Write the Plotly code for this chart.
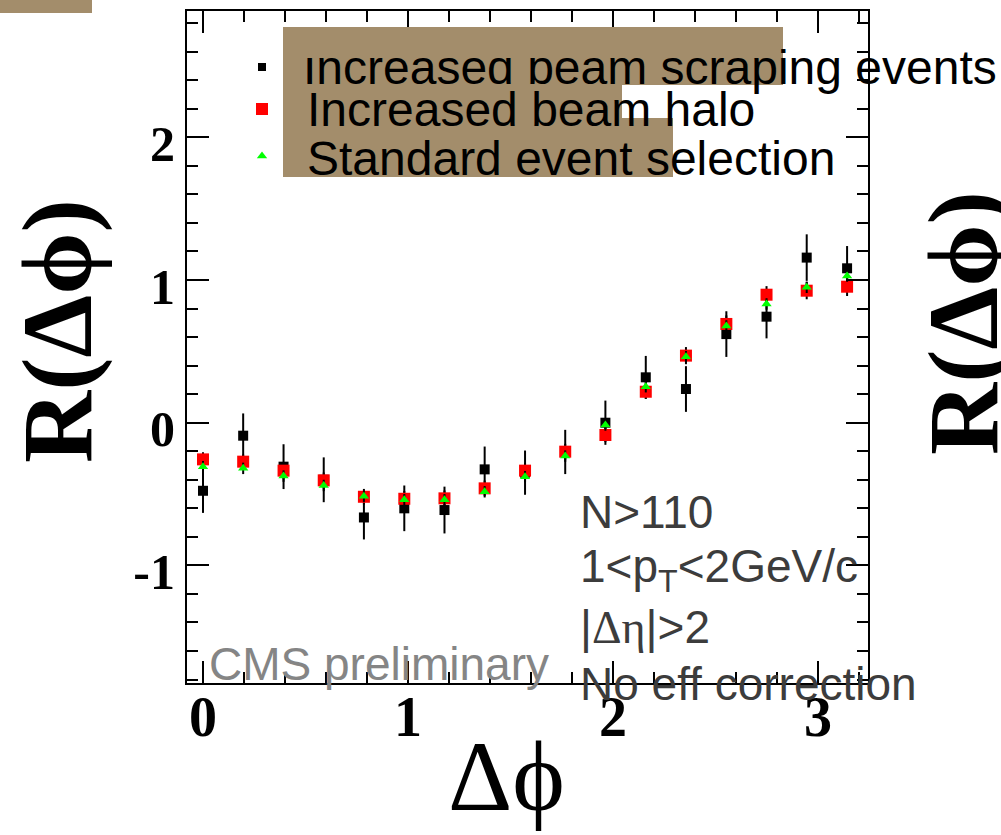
import plotly.graph_objects as go

# Correlation function R(dphi) for three event selections
dphi = [0.0, 0.196, 0.393, 0.589, 0.785, 0.982, 1.178, 1.374, 1.571,
        1.767, 1.963, 2.160, 2.356, 2.553, 2.749, 2.945, 3.142]

r_scraping = [-0.477, -0.091, -0.308, -0.400, -0.664, -0.600, -0.612, -0.327, -0.350,
              -0.205, 0.000, 0.318, 0.236, 0.621, 0.743, 1.157, 1.082]
err_scraping = [0.155, 0.156, 0.157, 0.157, 0.154, 0.160, 0.164, 0.160, 0.155,
                0.155, 0.155, 0.150, 0.160, 0.160, 0.152, 0.163, 0.156]

r_halo = [-0.257, -0.273, -0.336, -0.404, -0.519, -0.533, -0.530, -0.460, -0.336,
          -0.203, -0.086, 0.217, 0.470, 0.692, 0.897, 0.925, 0.953]
err_halo = [0.050, 0.050, 0.055, 0.055, 0.055, 0.055, 0.055, 0.055, 0.055,
            0.055, 0.050, 0.050, 0.060, 0.060, 0.060, 0.060, 0.065]

r_standard = [-0.308, -0.320, -0.374, -0.440, -0.515, -0.540, -0.540, -0.484, -0.378,
              -0.234, -0.016, 0.252, 0.463, 0.678, 0.832, 0.949, 1.028]
err_standard = [0.040] * 17

legend_labels = ["Increased beam scraping events", "Increased beam halo",
                 "Standard event selection"]
info_lines = ["N>110", "1&lt;p<sub>T</sub>&lt;2GeV/c",
              "|<span style='font-family:Liberation Serif'>Δη</span>|>2",
              "No eff correction"]
x_tickvals = [0, 1, 2, 3]
x_ticktext = ["0", "1", "2", "3"]
y_tickvals = [-1, 0, 1, 2]
y_ticktext = ["-1", "0", "1", "2"]

# Page geometry (pixels)
W, H = 1001, 835
FRAME_L, FRAME_R, FRAME_T, FRAME_B = 187, 868, 11, 683
BROWN = "#A38D6B"
SANS = "Liberation Sans"
SERIF = "Liberation Serif"


def fx(p):
    return p / W


def fy(p):
    return 1 - p / H


fig = go.Figure()

err_style = dict(type="data", thickness=2, width=0, color="black")

fig.add_trace(go.Scatter(
    x=dphi, y=r_scraping, mode="markers",
    error_y=dict(array=err_scraping, **err_style),
    marker=dict(symbol="square", size=10, color="black", line=dict(width=0)),
    showlegend=False))
fig.add_trace(go.Scatter(
    x=dphi, y=r_halo, mode="markers",
    error_y=dict(array=err_halo, **err_style),
    marker=dict(symbol="square", size=12, color="#FF0000", line=dict(width=0)),
    showlegend=False))
fig.add_trace(go.Scatter(
    x=dphi, y=r_standard, mode="markers",
    error_y=dict(array=err_standard, **err_style),
    marker=dict(symbol="triangle-up", size=9, color="#00FF00", line=dict(width=0)),
    showlegend=False))

# Legend swatches and first legend line, placed on a full-page pixel axis
LEG_MARK_X = 262
LEG_MARK_Y = [67, 109, 156]
leg_styles = [dict(symbol="square", size=8, color="black"),
              dict(symbol="square", size=12, color="#FF0000"),
              dict(symbol="triangle-up", size=9, color="#00FF00")]
for yy, st in zip(LEG_MARK_Y, leg_styles):
    fig.add_trace(go.Scatter(x=[LEG_MARK_X], y=[yy], mode="markers",
                             marker=dict(line=dict(width=0), **st),
                             xaxis="x2", yaxis="y2", showlegend=False,
                             cliponaxis=False))

LEG_FONT = 48
LEG_TEXT_X = 305
LEG_TEXT_Y = [72, 109, 158]
fig.add_trace(go.Scatter(x=[LEG_TEXT_X - 2], y=[LEG_TEXT_Y[0]], mode="text",
                         text=[legend_labels[0]], textposition="middle right",
                         textfont=dict(family=SANS, size=LEG_FONT, color="black"),
                         xaxis="x2", yaxis="y2", showlegend=False,
                         cliponaxis=False, hoverinfo="skip"))

tick_common = dict(ticks="inside", ticklen=22, tickwidth=2, tickcolor="black",
                   showline=True, linewidth=2, linecolor="black",
                   mirror="allticks", showgrid=False, zeroline=False,
                   minor=dict(dtick=0.2, tick0=0, ticks="inside", ticklen=11,
                              tickwidth=2, tickcolor="black", showgrid=False))

fig.update_layout(
    width=W, height=H, autosize=False,
    margin=dict(l=0, r=0, t=0, b=0, pad=0),
    paper_bgcolor="white", plot_bgcolor="rgba(0,0,0,0)",
    xaxis=dict(domain=[fx(FRAME_L), fx(FRAME_R)], range=[-0.078, 3.244],
               tickmode="array", tickvals=x_tickvals, ticktext=x_ticktext,
               tickfont=dict(family=SERIF, size=56, color="black", weight="bold"),
               ticklabelstandoff=-16,
               **tick_common),
    yaxis=dict(domain=[fy(FRAME_B), fy(FRAME_T)], range=[-1.824, 2.885],
               tickmode="array", tickvals=y_tickvals, ticktext=y_ticktext,
               tickfont=dict(family=SERIF, size=50, color="black", weight="bold"),
               ticklabelshift=6,
               **tick_common),
    xaxis2=dict(domain=[0, 1], range=[0, W], visible=False, anchor="y2"),
    yaxis2=dict(domain=[0, 1], range=[H, 0], visible=False, anchor="x2"),
)

# Shaded boxes behind the legend text
boxes = [(0, 0, 92, 13), (283, 27, 783, 85), (283, 85, 622, 118), (283, 118, 673, 177)]
for x0, y0, x1, y1 in boxes:
    fig.add_shape(type="rect", xref="paper", yref="paper",
                  x0=fx(x0), x1=fx(x1), y0=fy(y1), y1=fy(y0),
                  fillcolor=BROWN, line=dict(width=0), layer="below")

# Band laid over the upper part of the first legend line
fig.add_shape(type="rect", xref="paper", yref="paper",
              x0=fx(283), x1=fx(622), y0=fy(58), y1=fy(27),
              fillcolor=BROWN, line=dict(width=0), layer="above")

ann = []
for label, yy in zip(legend_labels[1:], LEG_TEXT_Y[1:]):
    ann.append(dict(text=label, x=fx(LEG_TEXT_X), y=fy(yy), xref="paper", yref="paper",
                    xanchor="left", yanchor="middle", showarrow=False,
                    font=dict(family=SANS, size=LEG_FONT, color="black")))

INFO_X = 578
INFO_Y = [512, 569, 627, 684]
for line, yy in zip(info_lines, INFO_Y):
    ann.append(dict(text=line, x=fx(INFO_X), y=fy(yy), xref="paper", yref="paper",
                    xanchor="left", yanchor="middle", showarrow=False,
                    font=dict(family=SANS, size=46, color="#3C3C3C")))

ann.append(dict(text="CMS preliminary", x=fx(207), y=fy(664), xref="paper", yref="paper",
                xanchor="left", yanchor="middle", showarrow=False,
                font=dict(family=SANS, size=46, color="#858585")))

title_font = dict(family=SERIF, size=100, color="black", weight="bold")
ann.append(dict(text="R(Δϕ)", x=fx(57), y=fy(331), xref="paper", yref="paper",
                textangle=-90, xanchor="center", yanchor="middle", showarrow=False,
                font=title_font))
ann.append(dict(text="R(Δϕ)", x=fx(963), y=fy(323), xref="paper", yref="paper",
                textangle=-90, xanchor="center", yanchor="middle", showarrow=False,
                font=title_font))
ann.append(dict(text="Δϕ", x=fx(507), y=fy(776), xref="paper", yref="paper",
                xanchor="center", yanchor="middle", showarrow=False,
                font=dict(family=SERIF, size=100, color="black")))

fig.update_layout(annotations=ann)

fig.write_html("out.html")
